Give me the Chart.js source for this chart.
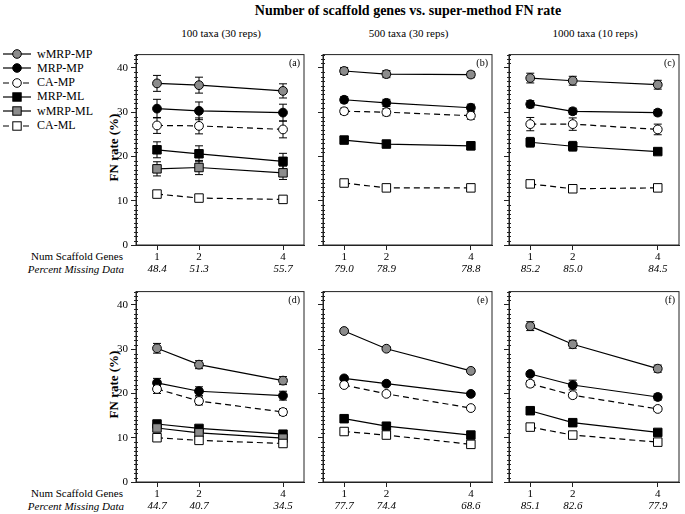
<!DOCTYPE html>
<html>
<head>
<meta charset="utf-8">
<script src="https://cdn.jsdelivr.net/npm/chart.js@4.4.0/dist/chart.umd.min.js"></script>
<style>
  html, body { margin: 0; padding: 0; background: #fff; }
  #page { position: relative; width: 685px; height: 514px; overflow: hidden; font-family: "Liberation Serif", "DejaVu Serif", serif; color: #000; }
  .txt { position: absolute; white-space: nowrap; line-height: 1; }
  canvas.panel { position: absolute; }
  .leg { position: absolute; left: 2px; height: 14px; display: flex; align-items: center; font-size: 12px; }
  .leg svg { margin-right: 5px; }
</style>
</head>
<body>
<div id="page">
  <div class="txt" style="left:0;width:816px;top:4px;text-align:center;font-size:14px;font-weight:bold;">Number of scaffold genes vs. super-method FN rate</div>
  <div id="legend"></div>
</div>
<script>
// x categories (number of scaffold genes) and panels
const scaffoldGenes = [1, 2, 4];
const panelLetters = ["(a)", "(b)", "(c)", "(d)", "(e)", "(f)"];
const columnTitles = ["100 taxa (30 reps)", "500 taxa (30 reps)", "1000 taxa (10 reps)"];
const yTicks = [0, 10, 20, 30, 40];

// Percent missing data under each x value, per panel a-f
const missingData = [
  [48.4, 51.3, 55.7], [79.0, 78.9, 78.8], [85.2, 85.0, 84.5],
  [44.7, 40.7, 34.5], [77.7, 74.4, 68.6], [85.1, 82.6, 77.9]
];

// FN rate (%) per panel a-f, and error bar half-widths
const wmrpMp = [[36.5, 36.1, 34.8], [39.3, 38.6, 38.5], [37.7, 37.1, 36.2], [30.2, 26.5, 22.9], [34.1, 30.1, 25.1], [35.2, 31.1, 25.6]];
const wmrpMpErr = [[1.8, 1.8, 1.6], [0.8, 0.8, 0.7], [1.1, 1.0, 1.0], [1.1, 0.9, 0.9], [0.4, 0.4, 0.4], [1.0, 0.9, 0.8]];
const mrpMp = [[30.8, 30.3, 29.9], [32.8, 32.1, 31.0], [31.8, 30.2, 29.9], [22.4, 20.5, 19.5], [23.4, 22.2, 19.9], [24.4, 21.9, 19.2]];
const mrpMpErr = [[2.1, 2.0, 1.9], [0.7, 0.8, 0.8], [0.8, 0.7, 0.7], [1.0, 1.0, 1.0], [0.4, 0.4, 0.4], [0.5, 1.1, 0.7]];
const caMp = [[27.0, 26.9, 26.1], [30.2, 30.0, 29.2], [27.3, 27.3, 26.1], [21.0, 18.3, 15.8], [21.9, 19.9, 16.7], [22.2, 19.6, 16.5]];
const caMpErr = [[1.8, 1.8, 1.9], [0.7, 0.8, 0.8], [1.5, 1.4, 1.2], [1.0, 0.9, 0.7], [0.4, 0.4, 0.4], [0.7, 0.6, 0.5]];
const mrpMl = [[21.5, 20.6, 18.9], [23.7, 22.8, 22.4], [23.2, 22.3, 21.1], [13.1, 12.1, 10.8], [14.3, 12.6, 10.6], [16.1, 13.4, 11.2]];
const mrpMlErr = [[1.8, 1.8, 1.8], [0.8, 0.7, 0.9], [1.1, 1.1, 0.3], [0.4, 0.4, 0.4], [0.3, 0.3, 0.3], [0.3, 0.4, 0.3]];
const wmrpMl = [[17.2, 17.5, 16.3], null, null, [12.2, 11.1, 9.9], null, null];
const wmrpMlErr = [[1.6, 1.6, 1.5], null, null, [0.4, 0.4, 0.4], null, null];
const caMl = [[11.5, 10.6, 10.3], [14.0, 12.9, 12.9], [13.8, 12.7, 12.9], [10.0, 9.4, 8.7], [11.4, 10.6, 8.5], [12.4, 10.6, 9.0]];
const caMlErr = [[0.7, 0.6, 0.6], [0.3, 0.3, 0.3], [0.4, 0.3, 0.3], [0.3, 0.3, 0.3], [0.3, 0.3, 0.3], [0.3, 0.3, 0.3]];

const GRAY = "#8c8c8c";
const FONT = "Liberation Serif";

// series styles (order = legend order)
const series = [
  { label: "wMRP-MP", vals: wmrpMp, errs: wmrpMpErr, shape: "circle", fill: GRAY, dash: [] },
  { label: "MRP-MP", vals: mrpMp, errs: mrpMpErr, shape: "circle", fill: "#000", dash: [] },
  { label: "CA-MP", vals: caMp, errs: caMpErr, shape: "circle", fill: "#fff", dash: [6, 4] },
  { label: "MRP-ML", vals: mrpMl, errs: mrpMlErr, shape: "rect", fill: "#000", dash: [] },
  { label: "wMRP-ML", vals: wmrpMl, errs: wmrpMlErr, shape: "rect", fill: GRAY, dash: [] },
  { label: "CA-ML", vals: caMl, errs: caMlErr, shape: "rect", fill: "#fff", dash: [6, 4] }
];

const page = document.getElementById("page");

function addText(text, css) {
  const d = document.createElement("div");
  d.className = "txt";
  d.textContent = text;
  d.style.cssText += css;
  page.appendChild(d);
  return d;
}

// legend
const legend = document.getElementById("legend");
series.forEach((s, i) => {
  const row = document.createElement("div");
  row.className = "leg";
  row.style.top = (47 + i * 14.3) + "px";
  const marker = s.shape === "circle"
    ? `<circle cx="15" cy="7" r="4.3" fill="${s.fill}" stroke="#000" stroke-width="1"/>`
    : `<rect x="10.8" y="2.8" width="8.4" height="8.4" fill="${s.fill}" stroke="#000" stroke-width="1"/>`;
  row.innerHTML = `<svg width="30" height="14"><line x1="1" y1="7" x2="29" y2="7" stroke="#000" stroke-width="1.2" stroke-dasharray="${s.dash.join(",")}"/>${marker}</svg><span>${s.label}</span>`;
  legend.appendChild(row);
});

// column titles
const colLeft = [136, 323, 509];
const colWidth = [170, 171, 172];
const rowTop = [50, 287];
const plotH = 195;
columnTitles.forEach((t, c) => {
  addText(t, `left:${colLeft[c]}px;width:${colWidth[c]}px;top:28px;text-align:center;font-size:11px;`);
});

// row labels
rowTop.forEach(top => {
  const bottom = top + plotH;
  addText("FN rate (%)", `left:${113 - 50}px;width:100px;top:${top + 98 - 7}px;text-align:center;font-size:13px;font-weight:bold;transform:rotate(-90deg);`);
  addText("Num Scaffold Genes", `left:0;width:123px;top:${bottom + 6}px;text-align:right;font-size:11px;`);
  addText("Percent Missing Data", `left:0;width:124px;top:${bottom + 19}px;text-align:right;font-size:11px;font-style:italic;`);
});

const frameAndTicks = {
  id: "frameAndTicks",
  afterDraw(chart, args, opts) {
    const { ctx, chartArea: a, scales } = chart;
    ctx.save();
    ctx.strokeStyle = "#222";
    ctx.lineWidth = 1;
    ctx.strokeRect(a.left, a.top, a.right - a.left, a.bottom - a.top);
    // minor ticks on the y axis
    for (let v = 1; v <= 43; v++) {
      if (v % 10 === 0) continue;
      const y = Math.round(scales.y.getPixelForValue(v)) + 0.5;
      ctx.beginPath();
      ctx.moveTo(a.left - 2, y);
      ctx.lineTo(a.left + 2, y);
      ctx.stroke();
    }
    // panel letter
    ctx.fillStyle = "#000";
    ctx.font = `10px "${FONT}"`;
    ctx.textAlign = "right";
    ctx.textBaseline = "middle";
    ctx.fillText(opts.letter, a.right - 4, a.top + 9);
    // percent missing data under x ticks
    ctx.font = `italic 11px "${FONT}"`;
    ctx.textAlign = "center";
    scaffoldGenes.forEach((g, i) => {
      ctx.fillText(opts.missing[i].toFixed(1), scales.x.getPixelForValue(g), a.bottom + 24.5);
    });
    ctx.restore();
  }
};

const errorBars = {
  id: "errorBars",
  beforeDatasetsDraw(chart) {
    const { ctx, scales } = chart;
    ctx.save();
    ctx.strokeStyle = "#000";
    ctx.lineWidth = 1;
    chart.data.datasets.forEach((ds, di) => {
      const meta = chart.getDatasetMeta(di);
      ds.data.forEach((p, i) => {
        const e = ds.errors[i];
        const x = meta.data[i].x;
        const y1 = scales.y.getPixelForValue(p.y + e);
        const y2 = scales.y.getPixelForValue(p.y - e);
        ctx.beginPath();
        ctx.moveTo(x, y1); ctx.lineTo(x, y2);
        ctx.moveTo(x - 4, y1); ctx.lineTo(x + 4, y1);
        ctx.moveTo(x - 4, y2); ctx.lineTo(x + 4, y2);
        ctx.stroke();
      });
    });
    ctx.restore();
  }
};

const PAD_L = 40, PAD_T = 5, PAD_R = 5, PAD_B = 40;

for (let p = 0; p < 6; p++) {
  const col = p % 3, row = Math.floor(p / 3);
  const canvas = document.createElement("canvas");
  canvas.className = "panel";
  const w = PAD_L + colWidth[col] + PAD_R;
  const h = PAD_T + plotH + PAD_B;
  canvas.width = w; canvas.height = h;
  canvas.style.width = w + "px"; canvas.style.height = h + "px";
  canvas.style.left = (colLeft[col] - PAD_L) + "px";
  canvas.style.top = (rowTop[row] - PAD_T) + "px";
  page.appendChild(canvas);

  const datasets = series.filter(s => s.vals[p]).map(s => ({
    label: s.label,
    data: scaffoldGenes.map((g, i) => ({ x: g, y: s.vals[p][i] })),
    errors: s.errs[p],
    borderColor: "#000",
    borderWidth: 1.2,
    borderDash: s.dash,
    pointStyle: s.shape,
    pointRadius: s.shape === "circle" ? 4.4 : 6,
    pointBackgroundColor: s.fill,
    pointBorderColor: "#000",
    pointBorderWidth: 1,
    tension: 0
  })).reverse();

  new Chart(canvas, {
    type: "line",
    data: { datasets },
    options: {
      responsive: false,
      animation: false,
      devicePixelRatio: 1,
      layout: { padding: { top: PAD_T, right: PAD_R, left: 0, bottom: 0 } },
      plugins: {
        legend: { display: false },
        tooltip: { enabled: false },
        frameAndTicks: { letter: panelLetters[p], missing: missingData[p] }
      },
      scales: {
        x: {
          type: "linear", min: 0.5, max: 4.5,
          afterBuildTicks: s => { s.ticks = scaffoldGenes.map(v => ({ value: v })); },
          afterFit: s => { s.height = PAD_B; },
          grid: { drawOnChartArea: false, tickLength: 5, color: "#222" },
          border: { color: "#222" },
          ticks: { color: "#000", font: { family: FONT, size: 11 }, padding: 1, maxRotation: 0 }
        },
        y: {
          min: 0, max: 43,
          afterBuildTicks: s => { s.ticks = yTicks.map(v => ({ value: v })); },
          afterFit: s => { s.width = PAD_L; },
          grid: { drawOnChartArea: false, tickLength: 5, color: "#222" },
          border: { color: "#222" },
          ticks: {
            color: "#000", font: { family: FONT, size: 11 }, padding: 3,
            callback: v => (col === 0 ? String(v) : "")
          }
        }
      }
    },
    plugins: [errorBars, frameAndTicks]
  });
}
</script>
</body>
</html>
